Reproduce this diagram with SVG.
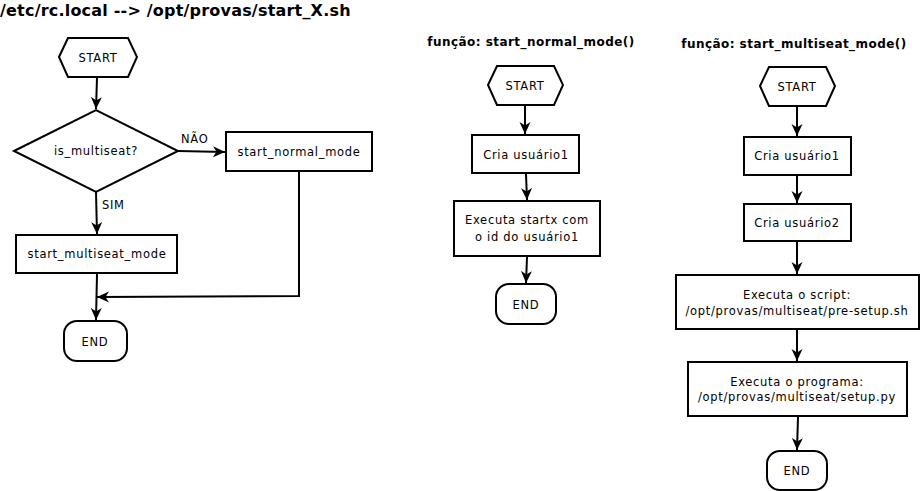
<svg xmlns="http://www.w3.org/2000/svg" width="920" height="491" viewBox="0 0 920 491">
<style>
.s{fill:#fff;stroke:#000;stroke-width:2}
.c{fill:none;stroke:#000;stroke-width:2;marker-end:url(#a)}
text{font-family:"DejaVu Sans","Liberation Sans",sans-serif;font-size:11.5px;letter-spacing:0.7px;fill:#000}
.m{text-anchor:middle}
.t{font-weight:bold;font-size:16px;letter-spacing:0.2px}
.h{font-weight:bold;font-size:12px;letter-spacing:0.45px;text-anchor:middle}
</style>
<defs>
<marker id="a" markerUnits="userSpaceOnUse" markerWidth="14" markerHeight="12" refX="12" refY="6" orient="auto">
<path d="M0,0.5 L12,6 L0,11.5 L3.5,6 z" fill="#000"/>
</marker>
</defs>
<rect width="920" height="491" fill="#fff"/>
<text class="t" x="0" y="16">/etc/rc.local --&gt; /opt/provas/start_X.sh</text>
<text class="h" x="531" y="46">função: start_normal_mode()</text>
<text class="h" x="794" y="48">função: start_multiseat_mode()</text>

<g id="connectors">
<path class="c" d="M97,78 L96,109"/>
<path class="c" d="M178,151 L225,152"/>
<path class="c" d="M96,192 L97,234"/>
<path class="c" d="M97,274 L96,320"/>
<path class="c" d="M299,171 L299,296 L97,297"/>
<path class="c" d="M525,106 L525,134"/>
<path class="c" d="M526,174 L527,200"/>
<path class="c" d="M527,257 L526,283"/>
<path class="c" d="M797,107 L797,136"/>
<path class="c" d="M797,176 L797,203"/>
<path class="c" d="M797,242 L797,274"/>
<path class="c" d="M797,330 L797,361"/>
<path class="c" d="M798,417 L797,450"/>
<text x="181" y="143">NÃO</text>
<text x="102" y="209">SIM</text>
</g>

<g id="n1">
<polygon class="s" points="59,57 68,38 128,38 137,57 128,77 68,77"/>
<text class="m" x="98" y="62">START</text>
</g>
<g id="n2">
<polygon class="s" points="14,151 96,110 178,151 96,192"/>
<text class="m" x="96" y="155">is_multiseat?</text>
</g>
<g id="n3">
<rect class="s" x="226" y="132" width="146" height="39"/>
<text class="m" x="299" y="156">start_normal_mode</text>
</g>
<g id="n4">
<rect class="s" x="16" y="235" width="161" height="38"/>
<text class="m" x="97" y="258">start_multiseat_mode</text>
</g>
<g id="n5">
<rect class="s" x="64" y="321" width="63" height="40" rx="13"/>
<text class="m" x="95" y="346">END</text>
</g>

<g id="m1">
<polygon class="s" points="488,85 497,66 554,66 563,85 554,105 497,105"/>
<text class="m" x="525" y="90">START</text>
</g>
<g id="m2">
<rect class="s" x="472" y="135" width="107" height="38"/>
<text class="m" x="526" y="159">Cria usuário1</text>
</g>
<g id="m3">
<rect class="s" x="454" y="201" width="146" height="55"/>
<text class="m" x="527" y="224">Executa startx com</text>
<text class="m" x="527" y="241">o id do usuário1</text>
</g>
<g id="m4">
<rect class="s" x="496" y="284" width="60" height="40" rx="13"/>
<text class="m" x="526" y="309">END</text>
</g>

<g id="r1">
<polygon class="s" points="760,86 769,67 826,67 835,86 826,106 769,106"/>
<text class="m" x="797" y="91">START</text>
</g>
<g id="r2">
<rect class="s" x="744" y="137" width="107" height="38"/>
<text class="m" x="797" y="160">Cria usuário1</text>
</g>
<g id="r3">
<rect class="s" x="744" y="204" width="107" height="37"/>
<text class="m" x="797" y="227">Cria usuário2</text>
</g>
<g id="r4">
<rect class="s" x="676" y="275" width="243" height="54"/>
<text class="m" x="797" y="299">Executa o script:</text>
<text class="m" x="797" y="315">/opt/provas/multiseat/pre-setup.sh</text>
</g>
<g id="r5">
<rect class="s" x="688" y="362" width="219" height="54"/>
<text class="m" x="797" y="386">Executa o programa:</text>
<text class="m" x="797" y="401">/opt/provas/multiseat/setup.py</text>
</g>
<g id="r6">
<rect class="s" x="767" y="451" width="60" height="39" rx="13"/>
<text class="m" x="797" y="475">END</text>
</g>
</svg>
